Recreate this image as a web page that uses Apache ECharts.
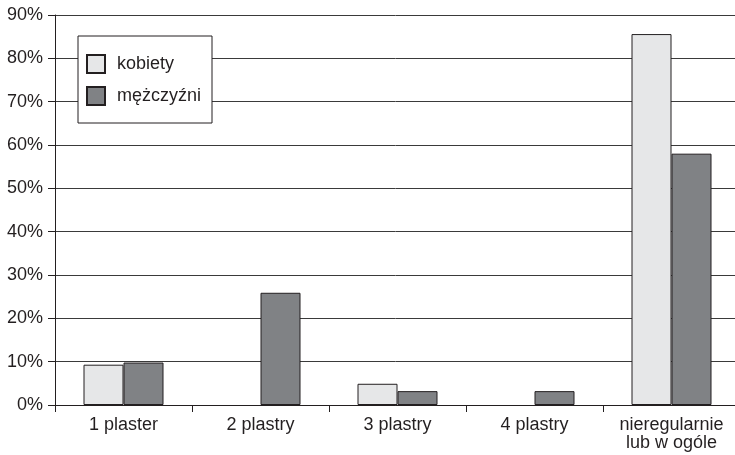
<!DOCTYPE html>
<html><head><meta charset="utf-8">
<script src="https://cdn.jsdelivr.net/npm/echarts@6/dist/echarts.min.js"></script>
<style>html,body{margin:0;padding:0;background:#fff}#c{width:735px;height:455px}</style>
</head><body><div id="c"></div>
<script>
const categories = ['1 plaster', '2 plastry', '3 plastry', '4 plastry', 'nieregularnie\nlub w ogóle'];
const kobiety = [9.3, null, 4.9, null, 85.6];
const mezczyzni = [9.8, 25.9, 3.2, 3.2, 58.0];
const yTicks = [0, 10, 20, 30, 40, 50, 60, 70, 80, 90];

const font = '"Liberation Sans", Arial, sans-serif';
const ink = '#231f20';
const chart = echarts.init(document.getElementById('c'));
chart.setOption({
  animation: false,
  backgroundColor: '#fff',
  textStyle: { fontFamily: font },
  grid: { left: 55, right: -5, top: 15, bottom: 50, containLabel: false, outerBoundsMode: 'none' },
  legend: {
    orient: 'vertical', left: 78, top: 36,
    backgroundColor: '#fff', borderColor: ink, borderWidth: 1,
    padding: [18, 11, 17, 8],
    itemGap: 12, itemWidth: 18, itemHeight: 18, icon: 'rect',
    textStyle: { fontFamily: font, fontSize: 18, lineHeight: 18, color: ink, padding: [0, 0, 0, 7] },
    data: ['kobiety', 'mężczyźni']
  },
  xAxis: {
    type: 'category', data: categories,
    axisLine: { lineStyle: { color: ink, width: 1 } },
    axisTick: { show: true, length: 7, lineStyle: { color: ink } },
    axisLabel: { interval: 0, fontSize: 18, color: ink, margin: 11, lineHeight: 18, fontFamily: font }
  },
  yAxis: {
    type: 'value', min: yTicks[0], max: yTicks[yTicks.length - 1], interval: 10,
    axisLine: { show: true, lineStyle: { color: ink, width: 1 } },
    axisTick: { show: true, length: 7, lineStyle: { color: ink } },
    axisLabel: { formatter: '{value}%', fontSize: 18, color: ink, margin: 12, fontFamily: font },
    splitLine: { show: true, lineStyle: { color: '#3a3a3a', width: 1 } }
  },
  series: [
    { name: 'kobiety', type: 'bar', data: kobiety, barWidth: 40, barGap: '0%',
      itemStyle: { color: '#e6e7e8', borderColor: ink, borderWidth: 1 } },
    { name: 'mężczyźni', type: 'bar', data: mezczyzni, barWidth: 40, barGap: '0%',
      itemStyle: { color: '#808285', borderColor: ink, borderWidth: 1 } }
  ]
});
</script></body></html>
